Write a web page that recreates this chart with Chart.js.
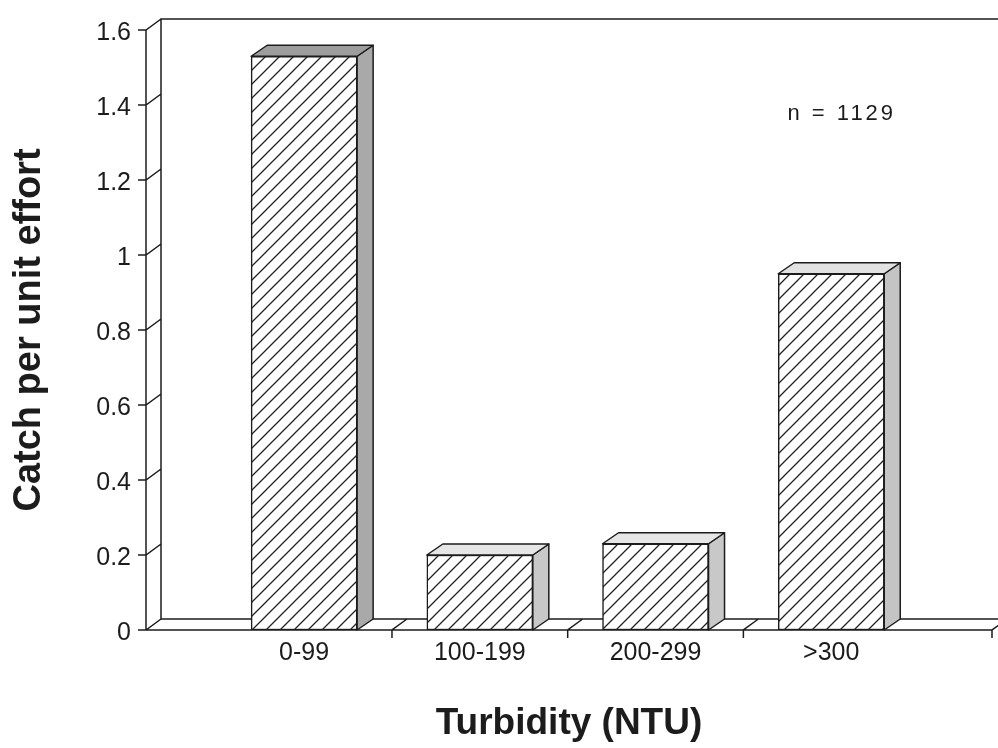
<!DOCTYPE html>
<html>
<head>
<meta charset="utf-8">
<script src="https://cdn.jsdelivr.net/npm/chart.js@4.4.0/dist/chart.umd.min.js"></script>
<style>
  html, body { margin: 0; padding: 0; background: #fff; }
  canvas { display: block; }
</style>
</head>
<body>
<canvas id="turbidityChart" width="998" height="748"></canvas>
<script>
const categories = ['0-99', '100-199', '200-299', '>300'];
const catchPerEffort = [1.53, 0.2, 0.23, 0.95];
const yTicks = [0, 0.2, 0.4, 0.6, 0.8, 1, 1.2, 1.4, 1.6];
const sampleLabel = 'n = 1129';
const yTitle = 'Catch per unit effort';
const xTitle = 'Turbidity (NTU)';

// depth of the 3d box and of the bars
const DEPTH_X = 15, DEPTH_Y = 11;
const BAR_DX = 16, BAR_DY = 11;
const INK = '#1c1c1c';
const FONT = '"Liberation Sans", Arial, sans-serif';
const sideFill = ['#a9a9a9', '#c8c8c8', '#c8c8c8', '#c4c4c4'];
const topFill = ['#9d9d9d', '#e6e6e6', '#e6e6e6', '#e2e2e2'];

function makeHatch() {
    const size = 14;
    const c = document.createElement('canvas');
    c.width = size;
    c.height = size;
    const g = c.getContext('2d');
    g.fillStyle = '#fff';
    g.fillRect(0, 0, size, size);
    g.strokeStyle = '#222';
    g.lineWidth = 1.3;
    g.beginPath();
    g.moveTo(-2, size + 2); g.lineTo(size + 2, -2);
    g.moveTo(-2, 2); g.lineTo(2, -2);
    g.moveTo(size - 2, size + 2); g.lineTo(size + 2, size - 2);
    g.stroke();
    return g.createPattern(c, 'repeat');
}

const box3d = {
    id: 'box3d',
    beforeDraw(chart) {
        const ctx = chart.ctx;
        ctx.save();
        ctx.fillStyle = '#fff';
        ctx.fillRect(0, 0, chart.width, chart.height);
        ctx.restore();
    },
    beforeDatasetsDraw(chart) {
        const { ctx, chartArea: a, scales: { x, y } } = chart;
        const y0 = y.getPixelForValue(0);
        const yTop = y.getPixelForValue(yTicks[yTicks.length - 1]);
        ctx.save();
        ctx.strokeStyle = INK;
        ctx.lineWidth = 1.5;
        ctx.beginPath();
        // back wall
        ctx.moveTo(a.left + DEPTH_X, y0 - DEPTH_Y);
        ctx.lineTo(a.left + DEPTH_X, yTop - DEPTH_Y);
        ctx.lineTo(chart.width, yTop - DEPTH_Y);
        // front axis + floor
        ctx.moveTo(a.left, yTop);
        ctx.lineTo(a.left, y0);
        ctx.lineTo(a.right, y0);
        ctx.lineTo(a.right + DEPTH_X, y0 - DEPTH_Y);
        ctx.moveTo(a.left + DEPTH_X, y0 - DEPTH_Y);
        ctx.lineTo(chart.width, y0 - DEPTH_Y);
        // y ticks with connectors to the back wall
        yTicks.forEach(v => {
            const py = y.getPixelForValue(v);
            ctx.moveTo(a.left - 8, py);
            ctx.lineTo(a.left, py);
            ctx.lineTo(a.left + DEPTH_X, py - DEPTH_Y);
        });
        // category boundaries on the floor
        const bounds = categories.slice(1).map((c, i) => x.getPixelForValue(i + 1.5));
        bounds.push(a.right);
        bounds.forEach(px => {
            ctx.moveTo(px, y0 + 8);
            ctx.lineTo(px, y0);
            ctx.lineTo(px + DEPTH_X, y0 - DEPTH_Y);
        });
        ctx.stroke();
        ctx.restore();
    },
    afterDatasetsDraw(chart) {
        const ctx = chart.ctx;
        const meta = chart.getDatasetMeta(0);
        ctx.save();
        ctx.strokeStyle = INK;
        ctx.lineWidth = 1.5;
        ctx.lineJoin = 'round';
        meta.data.forEach((bar, i) => {
            const { x: cx, y: top, base, width } = bar.getProps(['x', 'y', 'base', 'width'], true);
            const l = cx - width / 2, r = cx + width / 2;
            // side face
            ctx.beginPath();
            ctx.moveTo(r, top);
            ctx.lineTo(r + BAR_DX, top - BAR_DY);
            ctx.lineTo(r + BAR_DX, base - BAR_DY);
            ctx.lineTo(r, base);
            ctx.closePath();
            ctx.fillStyle = sideFill[i];
            ctx.fill();
            ctx.stroke();
            // top face
            ctx.beginPath();
            ctx.moveTo(l, top);
            ctx.lineTo(l + BAR_DX, top - BAR_DY);
            ctx.lineTo(r + BAR_DX, top - BAR_DY);
            ctx.lineTo(r, top);
            ctx.closePath();
            ctx.fillStyle = topFill[i];
            ctx.fill();
            ctx.stroke();
        });
        ctx.restore();
    },
    afterDraw(chart) {
        const { ctx, scales: { x, y } } = chart;
        ctx.save();
        ctx.fillStyle = INK;
        ctx.font = '22px ' + FONT;
        ctx.textAlign = 'center';
        ctx.textBaseline = 'middle';
        ctx.letterSpacing = '3px';
        ctx.fillText(sampleLabel, x.getPixelForValue(4.06), y.getPixelForValue(1.375));
        ctx.restore();
    }
};

const ctx = document.getElementById('turbidityChart').getContext('2d');

new Chart(ctx, {
    type: 'bar',
    data: {
        datasets: [{
            data: categories.map((c, i) => ({ x: i + 1, y: catchPerEffort[i] })),
            backgroundColor: makeHatch(),
            borderColor: INK,
            borderWidth: 1.5,
            borderSkipped: false,
            barThickness: 106
        }]
    },
    options: {
        responsive: false,
        animation: false,
        layout: { padding: { top: 24, right: 6, left: 0, bottom: 0 } },
        plugins: {
            legend: { display: false },
            tooltip: { enabled: false }
        },
        scales: {
            x: {
                type: 'linear',
                min: 0.1,
                max: 4.915,
                offset: false,
                grid: { display: false, drawTicks: false },
                border: { display: false },
                afterBuildTicks: s => { s.ticks = categories.map((c, i) => ({ value: i + 1 })); },
                afterFit: s => { s.height = 118; },
                ticks: {
                    callback: v => categories[v - 1],
                    padding: 8,
                    color: INK,
                    maxRotation: 0,
                    autoSkip: false,
                    font: { family: FONT, size: 25 }
                },
                title: {
                    display: true,
                    text: xTitle,
                    color: INK,
                    padding: { top: 0, bottom: 2 },
                    font: { family: FONT, size: 37, weight: 'bold' }
                }
            },
            y: {
                min: 0,
                max: 1.6,
                grid: { display: false, drawTicks: false },
                border: { display: false },
                afterBuildTicks: s => { s.ticks = yTicks.map(v => ({ value: v })); },
                afterFit: s => { s.width = 146; },
                ticks: {
                    callback: v => String(Math.round(v * 10) / 10),
                    padding: 15,
                    labelOffset: 3,
                    color: INK,
                    font: { family: FONT, size: 25 }
                },
                title: {
                    display: true,
                    text: yTitle,
                    color: INK,
                    padding: { top: 7, bottom: 0 },
                    font: { family: FONT, size: 38, weight: 'bold' }
                }
            }
        }
    },
    plugins: [box3d]
});
</script>
</body>
</html>
